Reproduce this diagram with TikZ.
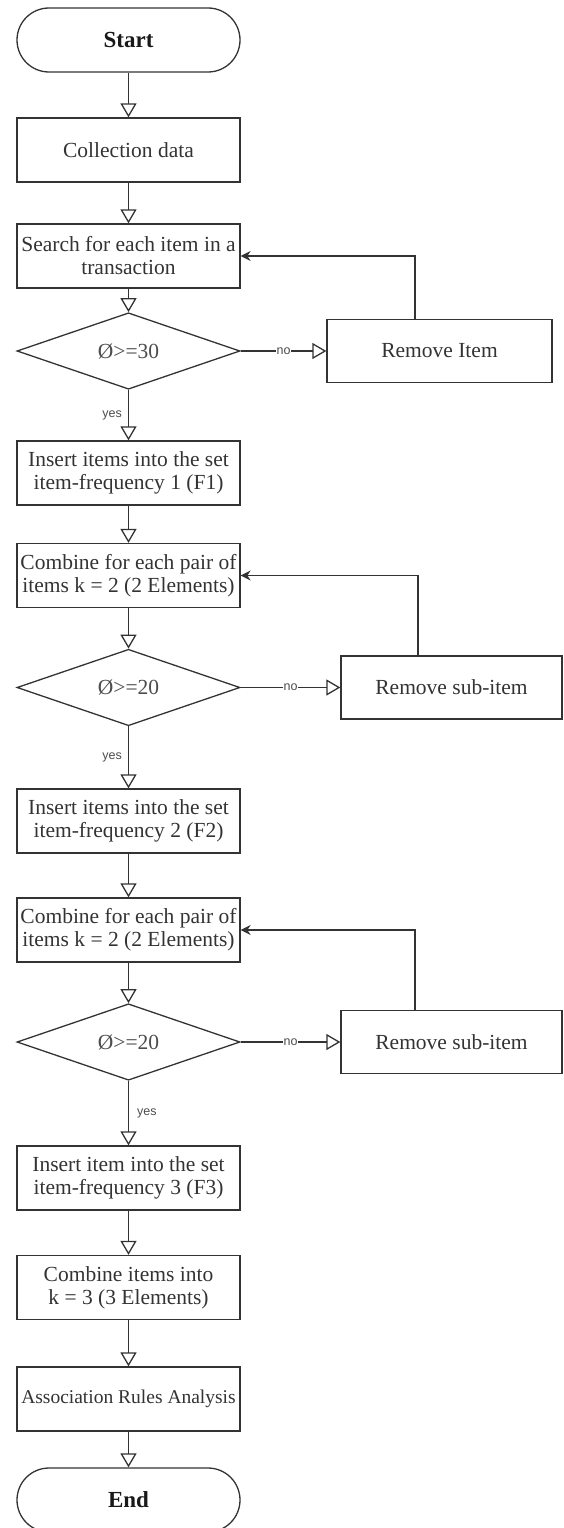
\documentclass[tikz,border=0pt]{standalone}
\usepackage{fontspec}
\setmainfont{Liberation Serif}
\setsansfont{Liberation Sans}
\usetikzlibrary{arrows.meta}
\usetikzlibrary{shapes.geometric}
\tikzstyle{process}=[rectangle,draw=black!80,line width=1.3pt,minimum width=223pt,minimum height=64pt,inner sep=0pt,align=center,text=black!80,font=\fontsize{21.5}{23}\selectfont]
\tikzstyle{terminal}=[process,rounded corners=32pt,text=black!90,font=\bfseries\fontsize{23}{25}\selectfont]
\tikzstyle{decision}=[diamond,draw=black!80,line width=1.3pt,minimum width=223pt,minimum height=63pt,inner sep=0pt,text=black!70,font=\fontsize{21.5}{23}\selectfont]
\tikzstyle{flow} = [draw=black!80,line width=1.3pt,-{Triangle[open,length=14pt,width=16pt]}]
\tikzstyle{back} = [draw=black!80,line width=1.3pt,-{Stealth[length=10pt,width=10pt]}]
\tikzstyle{answer} = [inner sep=1pt,text=black!70,font=\sffamily\fontsize{12.5}{14}\selectfont]

\begin{document}
\begin{tikzpicture}[x=1pt,y=-1pt]
  \useasboundingbox (0,0) rectangle (563,1528);

  \foreach \pos/\name/\label in {{(128.5,40)/start/Start}, {(128.5,1500)/end/End}}
    \node[terminal] (\name) at \pos {\label};

  \foreach \pos/\name/\label in {{(128.5,150)/collect/Collection data},
      {(128.5,256)/search/{Search for each item in a\\transaction}},
      {(128.5,473)/insert1/{Insert items into the set\\item-frequency 1 (F1)}},
      {(128.5,575.5)/combine1/{Combine for each pair of\\items k = 2 (2 Elements)}},
      {(128.5,821)/insert2/{Insert items into the set\\item-frequency 2 (F2)}},
      {(128.5,930)/combine2/{Combine for each pair of\\items k = 2 (2 Elements)}},
      {(128.5,1178)/insert3/{Insert item into the set\\item-frequency 3 (F3)}},
      {(128.5,1287.5)/combine3/{Combine items into\\k = 3 (3 Elements)}}}
    \node[process] (\name) at \pos {\label};
  \node[process,font=\fontsize{19.5}{22}\selectfont] (assoc) at (128.5,1399) {Association Rules Analysis};

  \foreach \pos/\name/\label in {{(128.5,351)/dec1/Ø>=30}, {(128.5,687.5)/dec2/Ø>=20}, {(128.5,1042)/dec3/Ø>=20}}
    \node[decision] (\name) at \pos {\label};

  % removal boxes on the right
  \node[process,minimum width=225pt,minimum height=63pt] (rem1) at (439.5,351) {Remove Item};
  \foreach \pos/\name in {{(451.5,687.5)/rem2}, {(451.5,1042)/rem3}}
    \node[process,minimum width=221pt,minimum height=63pt] (\name) at \pos {Remove sub-item};

  % main flow
  \foreach \source/\dest in {start/collect, collect/search, search/dec1, insert1/combine1, combine1/dec2,
      insert2/combine2, combine2/dec3, insert3/combine3, combine3/assoc, assoc/end}
    \path[flow] (\source) -- (\dest);

  \path[flow] (dec1) -- node[answer,left=5pt] {yes} (insert1);
  \path[flow] (dec2) -- node[answer,left=5pt] {yes} (insert2);
  \path[flow] (dec3) -- node[answer,right=7pt] {yes} (insert3);

  \foreach \source/\dest in {dec1/rem1, dec2/rem2, dec3/rem3}
    \path[flow] (\source.east) -- node[answer,fill=white] {no} (\dest.west);

  % loops back
  \path[back] ([xshift=-24.5pt]rem1.north) |- (search.east);
  \path[back] ([xshift=-33.5pt]rem2.north) |- (combine1.east);
  \path[back] ([xshift=-36.5pt]rem3.north) |- (combine2.east);
\end{tikzpicture}
\end{document}
